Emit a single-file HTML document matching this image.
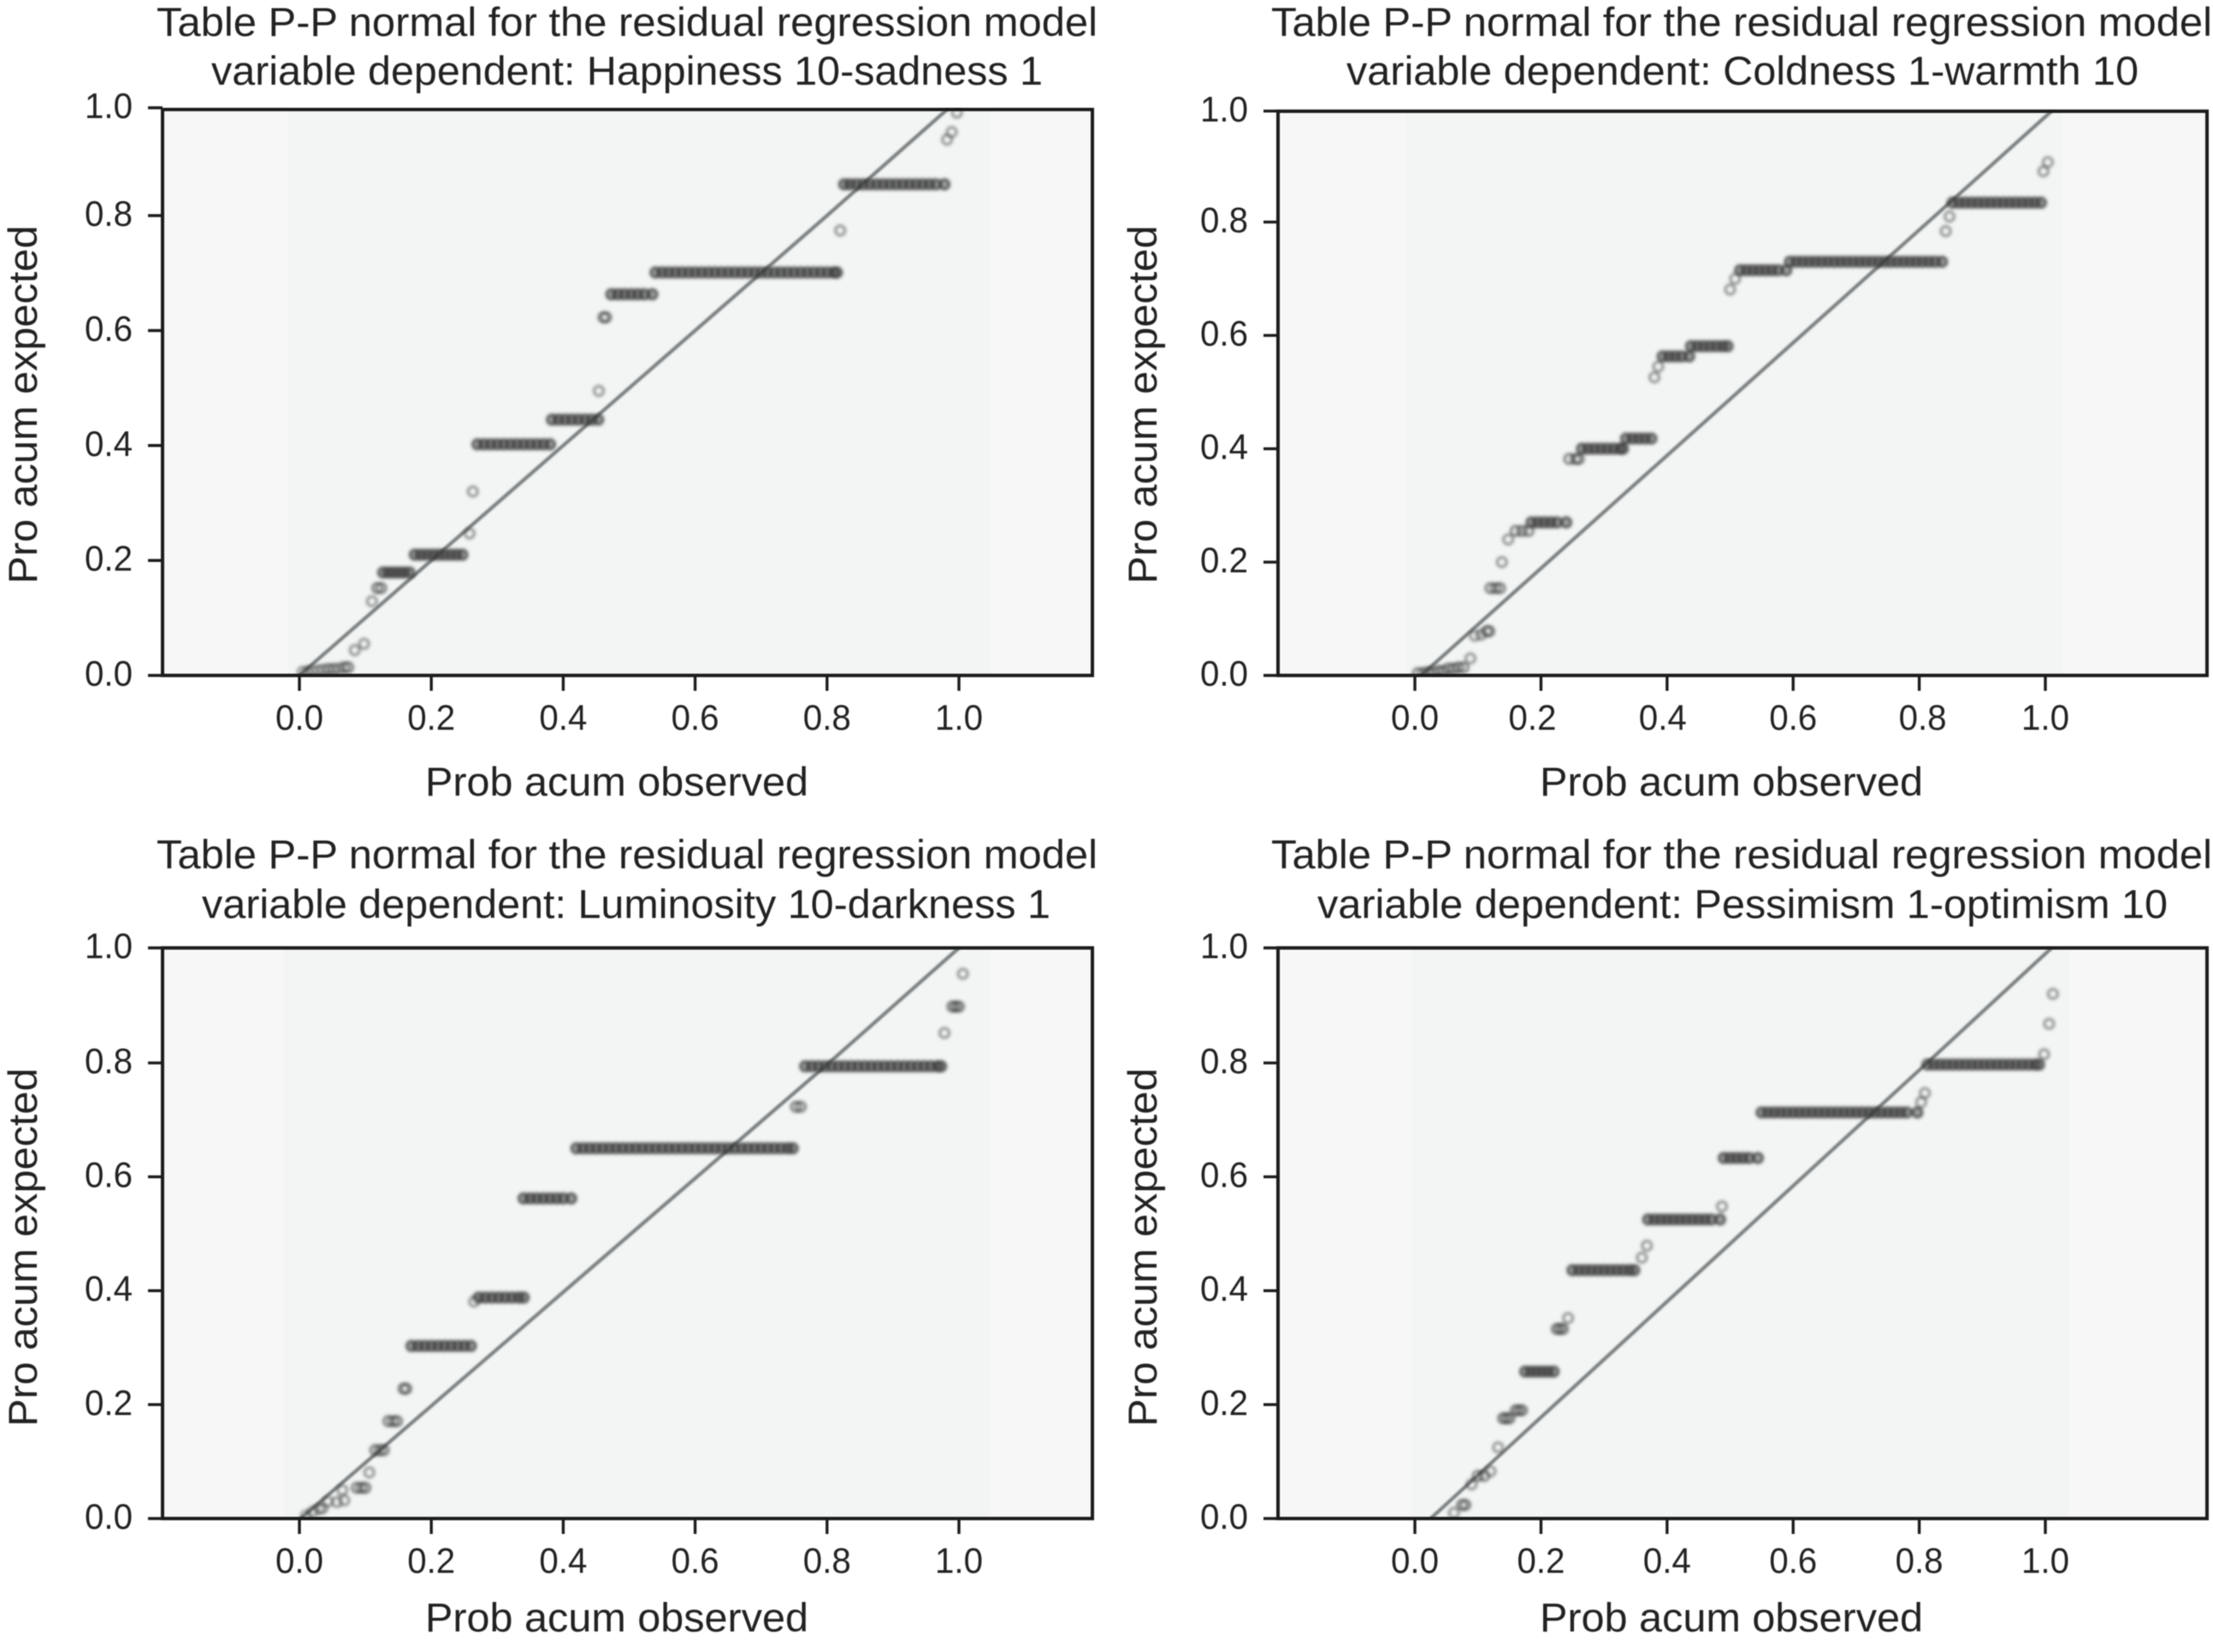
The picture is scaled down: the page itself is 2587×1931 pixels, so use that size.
<!DOCTYPE html>
<html lang="en">
<head>
<meta charset="utf-8">
<title>P-P normal plots for residual regression models</title>
<style>
html,body{margin:0;padding:0;background:#fff;width:2587px;height:1931px;overflow:hidden}
svg{display:block}
text{font-family:"Liberation Sans",sans-serif;fill:#232323}
.title,.axis-title{font-size:47px}
.tick-label{font-size:42px}
</style>
</head>
<body>
<svg id="figure" xmlns="http://www.w3.org/2000/svg" width="2587" height="1931" viewBox="0 0 2587 1931">
<defs>
<filter id="soft" filterUnits="userSpaceOnUse" x="0" y="0" width="2587" height="1931"><feGaussianBlur stdDeviation="1.8"/></filter>
<filter id="softer" filterUnits="userSpaceOnUse" x="0" y="0" width="2587" height="1931"><feGaussianBlur stdDeviation="1"/></filter>
<filter id="crisp" filterUnits="userSpaceOnUse" x="0" y="0" width="2587" height="1931"><feGaussianBlur stdDeviation="0.45"/></filter>
</defs>

<g id="panel-happiness">
<g id="plot-happiness"></g>
<g filter="url(#crisp)">
<text class="title" x="733" y="42" text-anchor="middle" textLength="1100" lengthAdjust="spacingAndGlyphs">Table P-P normal for the residual regression model</text>
<text class="title" x="733" y="99" text-anchor="middle" textLength="972" lengthAdjust="spacingAndGlyphs">variable dependent: Happiness 10-sadness 1</text>
<text class="axis-title" x="721" y="930" text-anchor="middle" textLength="448" lengthAdjust="spacingAndGlyphs">Prob acum observed</text>
<text class="axis-title" transform="translate(43,473) rotate(-90)" text-anchor="middle" textLength="419" lengthAdjust="spacingAndGlyphs">Pro acum expected</text>
</g>
</g>

<g id="panel-coldness">
<g id="plot-coldness"></g>
<g filter="url(#crisp)">
<text class="title" x="2036" y="42" text-anchor="middle" textLength="1100" lengthAdjust="spacingAndGlyphs">Table P-P normal for the residual regression model</text>
<text class="title" x="2037" y="99" text-anchor="middle" textLength="926" lengthAdjust="spacingAndGlyphs">variable dependent: Coldness 1-warmth 10</text>
<text class="axis-title" x="2024" y="930" text-anchor="middle" textLength="448" lengthAdjust="spacingAndGlyphs">Prob acum observed</text>
<text class="axis-title" transform="translate(1352,473) rotate(-90)" text-anchor="middle" textLength="419" lengthAdjust="spacingAndGlyphs">Pro acum expected</text>
</g>
</g>

<g id="panel-luminosity">
<g id="plot-luminosity"></g>
<g filter="url(#crisp)">
<text class="title" x="733" y="1015" text-anchor="middle" textLength="1100" lengthAdjust="spacingAndGlyphs">Table P-P normal for the residual regression model</text>
<text class="title" x="732" y="1073" text-anchor="middle" textLength="992" lengthAdjust="spacingAndGlyphs">variable dependent: Luminosity 10-darkness 1</text>
<text class="axis-title" x="721" y="1907" text-anchor="middle" textLength="448" lengthAdjust="spacingAndGlyphs">Prob acum observed</text>
<text class="axis-title" transform="translate(43,1458) rotate(-90)" text-anchor="middle" textLength="419" lengthAdjust="spacingAndGlyphs">Pro acum expected</text>
</g>
</g>

<g id="panel-pessimism">
<g id="plot-pessimism"></g>
<g filter="url(#crisp)">
<text class="title" x="2036" y="1015" text-anchor="middle" textLength="1100" lengthAdjust="spacingAndGlyphs">Table P-P normal for the residual regression model</text>
<text class="title" x="2037" y="1073" text-anchor="middle" textLength="994" lengthAdjust="spacingAndGlyphs">variable dependent: Pessimism 1-optimism 10</text>
<text class="axis-title" x="2024" y="1907" text-anchor="middle" textLength="448" lengthAdjust="spacingAndGlyphs">Prob acum observed</text>
<text class="axis-title" transform="translate(1352,1458) rotate(-90)" text-anchor="middle" textLength="419" lengthAdjust="spacingAndGlyphs">Pro acum expected</text>
</g>
</g>
</svg>

<script>
const tickValues = [0, 0.2, 0.4, 0.6, 0.8, 1.0];
const tickLabels = ['0.0', '0.2', '0.4', '0.6', '0.8', '1.0'];

/* Each expected value pairs with the list of observed values plotted at that level */
const happinessExpected = [.006,.007,.008,.009,.010,.011,.012,.014,.044,.055,.129,.152,.179,.21,.247,.32,.402,.445,.495,.623,.663,.701,.774,.858,.941,.955,.991];
const happinessObserved = [[.005],[.012],[.02],[.028],[.036],[.044,.052],[.06],[.068,.074],[.084],[.098],[.11],[.118,.124],
[.127,.135,.143,.151,.159,.167],
[.175,.184,.193,.202,.211,.22,.229,.238,.247],
[.258],[.263],
[.27,.28,.29,.30,.31,.32,.33,.34,.35,.36,.37,.38],
[.383,.393,.403,.413,.423,.433,.443,.453],
[.454],[.461,.465],
[.473,.483,.493,.503,.513,.523,.535],
[.54,.55,.56,.57,.58,.59,.60,.61,.62,.63,.64,.65,.66,.67,.68,.69,.70,.71,.72,.73,.74,.75,.76,.77,.78,.79,.80,.81,.815],
[.82],
[.826,.835,.845,.855,.865,.875,.885,.895,.905,.915,.925,.935,.945,.955,.965,.978],
[.982],[.989],[.997]];
const happinessLineObserved = [0, 0.8, 0.985];
const happinessLineExpected = [0, 0.8, 1.0];

const coldnessExpected = [.004,.006,.008,.012,.014,.03,.07,.072,.078,.154,.2,.24,.255,.27,.382,.4,.418,.526,.545,.563,.581,.681,.70,.715,.73,.784,.81,.835,.8915,.908];
const coldnessObserved = [[.005,.013],[.021,.029],[.037,.045],[.053,.061],[.069,.077],[.088],[.095],[.105],[.114,.118],
[.12,.128,.135],[.138],[.148],[.16,.17,.18],
[.185,.195,.205,.215,.225,.24],
[.245,.255,.26],
[.265,.275,.285,.295,.305,.315,.325,.33],
[.335,.345,.355,.365,.375],
[.38],[.386],
[.393,.403,.413,.423,.435],
[.438,.448,.458,.468,.478,.488,.496],
[.5],[.508],
[.516,.526,.536,.546,.556,.566,.576,.589],
[.595,.605,.615,.625,.635,.645,.655,.665,.675,.685,.695,.705,.715,.725,.735,.745,.755,.765,.775,.785,.795,.805,.815,.825,.836],
[.842],[.848],
[.853,.863,.873,.883,.893,.903,.913,.923,.933,.943,.953,.963,.973,.983,.993],
[.997],[1.004]];
const coldnessLineObserved = [0.01, 0.814, 1.01];
const coldnessLineExpected = [0, 0.8, 1.0];

const luminosityExpected = [.005,.012,.017,.018,.03,.029,.032,.05,.054,.081,.12,.171,.228,.303,.381,.388,.562,.65,.723,.794,.852,.898,.955];
const luminosityObserved = [[.01],[.02],[.03],[.035],[.043],[.057],[.068],[.065],[.087,.094,.1],[.106],[.115,.122,.128],[.135,.142,.148],[.158,.162],
[.17,.18,.19,.20,.21,.22,.23,.24,.25,.26],
[.265],
[.272,.282,.292,.302,.312,.322,.332,.34],
[.34,.35,.36,.37,.38,.39,.40,.412],
[.42,.43,.44,.45,.46,.47,.48,.49,.50,.51,.52,.53,.54,.55,.56,.57,.58,.59,.60,.61,.62,.63,.64,.65,.66,.67,.68,.69,.70,.71,.72,.73,.74,.748],
[.753,.76],
[.767,.777,.787,.797,.807,.817,.827,.837,.847,.857,.867,.877,.887,.897,.907,.917,.927,.937,.947,.957,.967,.973],
[.978],[.99,.995,1.0],[1.006]];
const luminosityLineObserved = [0.002, 0.803, 1.0];
const luminosityLineExpected = [0, 0.8, 1.0];

const pessimismExpected = [.01,.024,.06,.075,.083,.125,.176,.19,.258,.333,.352,.436,.458,.479,.525,.548,.633,.713,.731,.747,.797,.815,.868,.92];
const pessimismObserved = [[.062],[.075,.08],[.09],[.1,.11],[.12],[.132],[.14,.145,.15],[.16,.165,.17],
[.175,.184,.193,.202,.211,.22],
[.225,.23,.235],
[.243],
[.25,.26,.27,.28,.29,.30,.31,.32,.33,.34,.348],
[.36],[.368],
[.37,.38,.39,.40,.41,.42,.43,.44,.45,.46,.47,.484],
[.487],
[.49,.50,.51,.52,.53,.544],
[.55,.56,.57,.58,.59,.60,.61,.62,.63,.64,.65,.66,.67,.68,.69,.70,.71,.72,.73,.74,.75,.76,.77,.78,.797],
[.803],[.809],
[.813,.823,.833,.843,.853,.863,.873,.883,.893,.903,.913,.923,.933,.943,.953,.963,.973,.983,.99],
[.998],[1.006],[1.012]];
const pessimismLineObserved = [0.025, 0.8125, 1.01];
const pessimismLineExpected = [0, 0.8, 1.0];

/* Layout of each panel, in page pixels */
const layouts = {
  happiness:  {left:190,  right:1277, top:128,  bottom:789.5, x0:350,  x1:1121, y0:789.5, y08:252,    y1:126,   shadeL:336,  shadeR:1158, labelShift:[0,0,0,0,0,0]},
  coldness:   {left:1494, right:2580, top:130,  bottom:789.5, x0:1654, x1:2391, y0:789.5, y08:259.6,  y1:129.8, shadeL:1643, shadeR:2411, labelShift:[0,-10,-5,0,4,0]},
  luminosity: {left:190,  right:1277, top:1108, bottom:1775,  x0:350,  x1:1121, y0:1775,  y08:1242.4, y1:1108,  shadeL:332,  shadeR:1158, labelShift:[0,0,0,0,0,0]},
  pessimism:  {left:1494, right:2580, top:1108, bottom:1775,  x0:1654, x1:2391, y0:1775,  y08:1242.4, y1:1108,  shadeL:1650, shadeR:2419, labelShift:[0,0,0,0,0,0]}
};

const NS = 'http://www.w3.org/2000/svg';

function svgEl(tag, attrs) {
  const el = document.createElementNS(NS, tag);
  for (const key in attrs) el.setAttribute(key, attrs[key]);
  return el;
}

function drawPanel(id, expected, observed, lineObserved, lineExpected) {
  const L = layouts[id];
  const root = document.getElementById('plot-' + id);
  const xScale = function (v) { return L.x0 + (L.x1 - L.x0) * v; };
  const yScale = function (v) {
    return v <= 0.8 ? L.y0 + (L.y08 - L.y0) * (v / 0.8)
                    : L.y08 + (L.y1 - L.y08) * ((v - 0.8) / 0.2);
  };

  const bg = svgEl('rect', {x: L.left, y: L.top, width: L.right - L.left, height: L.bottom - L.top, fill: '#f7f7f7'});
  
  
  root.appendChild(bg);

  const shade = svgEl('rect', {x: L.shadeL, y: L.top, width: L.shadeR - L.shadeL, height: L.bottom - L.top, fill: '#f3f5f5'});
  
  
  root.appendChild(shade);

  const defs = document.querySelector('#figure defs');
  const clip = svgEl('clipPath', {id: 'clip-' + id});
  clip.appendChild(svgEl('rect', {x: L.left, y: L.top - 2, width: L.right - L.left, height: L.bottom - L.top + 2}));
  defs.appendChild(clip);
  const clipped = svgEl('g', {'clip-path': 'url(#clip-' + id + ')'});
  
  
  root.appendChild(clipped);

  const refPath = lineObserved.map(function (v, i) {
    return xScale(v) + ',' + yScale(lineExpected[i]);
  }).join(' ');
  const refLine = svgEl('polyline', {points: refPath, fill: 'none', stroke: '#7a8080', 'stroke-width': 4.2, filter: 'url(#softer)'});
  
  
  clipped.appendChild(refLine);

  const pts = svgEl('g', {filter: 'url(#soft)'});
  
  
  clipped.appendChild(pts);
  expected.forEach(function (yv, i) {
    const run = observed[i] || [];
    run.forEach(function (xv) {
      const heavy = run.length >= 4;
      const strokeOpacity = heavy ? 0.64 : (run.length >= 2 ? 0.56 : 0.46);
      const c = svgEl('circle', {
        cx: xScale(xv), cy: yScale(yv), r: 5.5,
        fill: heavy ? '#333' : 'none', 'fill-opacity': 0.42,
        stroke: '#3c3c3c', 'stroke-opacity': strokeOpacity, 'stroke-width': heavy ? 4 : 3.6
      });
      
      
      pts.appendChild(c);
    });
  });

  const axes = svgEl('g', {filter: 'url(#crisp)'});
  
  
  root.appendChild(axes);

  const frame = svgEl('rect', {x: L.left, y: L.top, width: L.right - L.left, height: L.bottom - L.top, fill: 'none', stroke: '#1f1f1f', 'stroke-width': 4});
  
  
  axes.appendChild(frame);

  tickValues.forEach(function (v, i) {
    const xp = xScale(v);
    const yp = yScale(v);

    const xt = svgEl('line', {x1: xp, x2: xp, y1: L.bottom, y2: L.bottom + 18, stroke: '#1f1f1f', 'stroke-width': 3.4});
    
    
    axes.appendChild(xt);

    const xl = svgEl('text', {x: xp + L.labelShift[i], y: L.bottom + 63.5, 'text-anchor': 'middle', 'class': 'tick-label', textLength: 56, lengthAdjust: 'spacingAndGlyphs'});
    xl.textContent = tickLabels[i];
    
    
    axes.appendChild(xl);

    const yt = svgEl('line', {x1: L.left - 17, x2: L.left, y1: yp, y2: yp, stroke: '#1f1f1f', 'stroke-width': 3.4});
    
    
    axes.appendChild(yt);

    const yl = svgEl('text', {x: L.left - 35, y: yp + 12, 'text-anchor': 'end', 'class': 'tick-label', textLength: 56, lengthAdjust: 'spacingAndGlyphs'});
    yl.textContent = tickLabels[i];
    
    
    axes.appendChild(yl);
  });
}

drawPanel('happiness', happinessExpected, happinessObserved, happinessLineObserved, happinessLineExpected);
drawPanel('coldness', coldnessExpected, coldnessObserved, coldnessLineObserved, coldnessLineExpected);
drawPanel('luminosity', luminosityExpected, luminosityObserved, luminosityLineObserved, luminosityLineExpected);
drawPanel('pessimism', pessimismExpected, pessimismObserved, pessimismLineObserved, pessimismLineExpected);
</script>
</body>
</html>
